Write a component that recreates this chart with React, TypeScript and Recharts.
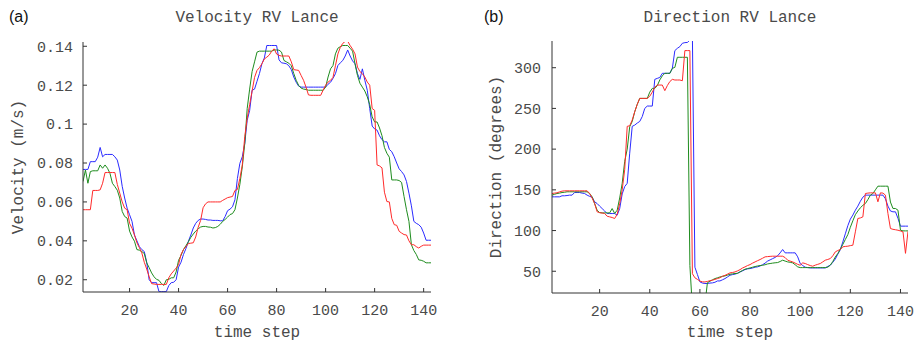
import React from 'react';
import { LineChart, Line, XAxis, YAxis } from 'recharts';

// time steps 1..143
const timeSteps: number[] = Array.from({ length: 143 }, (_, i) => i + 1);

const xTicks = [20, 40, 60, 80, 100, 120, 140];
const velTicks = [0.02, 0.04, 0.06, 0.08, 0.1, 0.12, 0.14];
const dirTicks = [50, 100, 150, 200, 250, 300];

// Velocity RV Lance (m/s)
const velBlue = [
  0.0767, 0.0767, 0.0767, 0.0807, 0.0807, 0.0807, 0.0830, 0.0880, 0.0832, 0.0844,
  0.0844, 0.0844, 0.0844, 0.0832, 0.0815, 0.0764, 0.0680, 0.0620, 0.0568, 0.0534,
  0.0500, 0.0430, 0.0400, 0.0370, 0.0355, 0.0345, 0.0290, 0.0200, 0.0185, 0.0185,
  0.0185, 0.0139, 0.0139, 0.0139, 0.0139, 0.0170, 0.0185, 0.0187, 0.0200, 0.0265,
  0.0290, 0.0330, 0.0360, 0.0398, 0.0430, 0.0466, 0.0490, 0.0505, 0.0512, 0.0512,
  0.0510, 0.0507, 0.0507, 0.0505, 0.0505, 0.0505, 0.0503, 0.0503, 0.0525, 0.0555,
  0.0563, 0.0575, 0.0611, 0.0720, 0.0798, 0.0832, 0.0900, 0.1020, 0.1070, 0.1174,
  0.1180, 0.1220, 0.1260, 0.1310, 0.1340, 0.1404, 0.1404, 0.1404, 0.1404, 0.1404,
  0.1330, 0.1315, 0.1313, 0.1310, 0.1300, 0.1280, 0.1242, 0.1215, 0.1195, 0.1190,
  0.1190, 0.1190, 0.1190, 0.1190, 0.1190, 0.1190, 0.1190, 0.1190, 0.1190, 0.1190,
  0.1205, 0.1215, 0.1235, 0.1259, 0.1301, 0.1315, 0.1327, 0.1350, 0.1381, 0.1350,
  0.1325, 0.1310, 0.1259, 0.1230, 0.1284, 0.1225, 0.1174, 0.1080, 0.0990, 0.0975,
  0.0969, 0.0940, 0.0920, 0.0909, 0.0909, 0.0870, 0.0858, 0.0832, 0.0800, 0.0770,
  0.0756, 0.0739, 0.0705, 0.0645, 0.0580, 0.0500, 0.0490, 0.0483, 0.0470, 0.0440,
  0.0403, 0.0403, 0.0403,
];
const velGreen = [
  0.0705, 0.0764, 0.0696, 0.0756, 0.0760, 0.0760, 0.0760, 0.0790, 0.0773, 0.0790,
  0.0773, 0.0747, 0.0696, 0.0679, 0.0660, 0.0620, 0.0551, 0.0525, 0.0517, 0.0450,
  0.0420, 0.0398, 0.0355, 0.0352, 0.0345, 0.0335, 0.0287, 0.0262, 0.0235, 0.0215,
  0.0202, 0.0197, 0.0180, 0.0171, 0.0200, 0.0202, 0.0210, 0.0210, 0.0240, 0.0300,
  0.0325, 0.0355, 0.0375, 0.0395, 0.0418, 0.0435, 0.0450, 0.0462, 0.0471, 0.0474,
  0.0474, 0.0471, 0.0470, 0.0466, 0.0468, 0.0474, 0.0485, 0.0500, 0.0510, 0.0522,
  0.0535, 0.0540, 0.0560, 0.0620, 0.0690, 0.0780, 0.0900, 0.1080, 0.1180, 0.1270,
  0.1320, 0.1370, 0.1375, 0.1375, 0.1375, 0.1375, 0.1375, 0.1375, 0.1381, 0.1381,
  0.1380, 0.1370, 0.1327, 0.1320, 0.1313, 0.1300, 0.1260, 0.1225, 0.1199, 0.1185,
  0.1180, 0.1178, 0.1174, 0.1174, 0.1174, 0.1174, 0.1174, 0.1174, 0.1174, 0.1190,
  0.1242, 0.1284, 0.1301, 0.1361, 0.1390, 0.1398, 0.1404, 0.1404, 0.1404, 0.1390,
  0.1375, 0.1310, 0.1250, 0.1210, 0.1190, 0.1170, 0.1140, 0.1100, 0.1037, 0.1011,
  0.1011, 0.0980, 0.0940, 0.0880, 0.0850, 0.0830, 0.0713, 0.0713, 0.0713, 0.0710,
  0.0700, 0.0628, 0.0560, 0.0500, 0.0380, 0.0350, 0.0330, 0.0302, 0.0300, 0.0295,
  0.0287, 0.0287, 0.0287,
];
const velRed = [
  0.0560, 0.0560, 0.0560, 0.0560, 0.0659, 0.0659, 0.0659, 0.0662, 0.0696, 0.0751,
  0.0751, 0.0751, 0.0751, 0.0751, 0.0690, 0.0645, 0.0600, 0.0568, 0.0560, 0.0490,
  0.0465, 0.0430, 0.0390, 0.0365, 0.0338, 0.0290, 0.0255, 0.0215, 0.0180, 0.0178,
  0.0176, 0.0176, 0.0176, 0.0176, 0.0176, 0.0210, 0.0230, 0.0245, 0.0260, 0.0278,
  0.0330, 0.0355, 0.0370, 0.0386, 0.0388, 0.0390, 0.0420, 0.0470, 0.0505, 0.0570,
  0.0590, 0.0600, 0.0600, 0.0600, 0.0600, 0.0600, 0.0600, 0.0608, 0.0615, 0.0622,
  0.0625, 0.0628, 0.0659, 0.0664, 0.0720, 0.0790, 0.0935, 0.1030, 0.1100, 0.1170,
  0.1240, 0.1276, 0.1290, 0.1310, 0.1335, 0.1344, 0.1355, 0.1375, 0.1387, 0.1360,
  0.1353, 0.1350, 0.1350, 0.1350, 0.1350, 0.1320, 0.1280, 0.1278, 0.1276, 0.1250,
  0.1225, 0.1190, 0.1150, 0.1148, 0.1148, 0.1148, 0.1148, 0.1148, 0.1175, 0.1200,
  0.1216, 0.1225, 0.1240, 0.1300, 0.1360, 0.1395, 0.1415, 0.1425, 0.1426, 0.1404,
  0.1385, 0.1361, 0.1293, 0.1270, 0.1259, 0.1242, 0.1216, 0.1200, 0.1080, 0.1071,
  0.0790, 0.0785, 0.0775, 0.0650, 0.0602, 0.0600, 0.0515, 0.0483, 0.0480, 0.0449,
  0.0440, 0.0432, 0.0430, 0.0400, 0.0380, 0.0380, 0.0370, 0.0363, 0.0372, 0.0378,
  0.0378, 0.0378, 0.0378,
];

// Direction RV Lance (degrees)
const dirBlue = [
  141.4, 141.4, 141.4, 141.4, 142.7, 142.7, 143.0, 143.5, 143.5, 146.7,
  146.7, 146.7, 146.0, 145.5, 143.5, 142.0, 141.0, 135.3, 133.2, 130.0,
  127.0, 124.0, 120.9, 120.9, 120.9, 120.9, 118.9, 127.0, 145.0, 154.0,
  158.0, 195.0, 228.0, 229.5, 232.0, 234.0, 240.0, 250.0, 252.9, 252.9,
  252.9, 285.7, 286.9, 288.0, 293.1, 293.1, 293.1, 293.1, 299.2, 321.0,
  323.8, 325.9, 330.0, 330.8, 331.0, 334.0, 340.0, 55.0, 46.0, 37.0,
  35.5, 35.0, 35.0, 35.5, 35.7, 36.5, 38.1, 38.1, 39.5, 41.0,
  43.0, 45.1, 45.9, 46.5, 47.5, 49.2, 50.5, 52.1, 53.0, 53.3,
  54.0, 55.0, 55.4, 56.5, 58.0, 60.0, 62.5, 64.0, 65.5, 67.0,
  69.0, 72.6, 76.7, 72.6, 72.6, 72.6, 72.6, 72.6, 67.7, 59.5,
  57.0, 55.0, 54.5, 54.1, 54.1, 54.1, 54.1, 54.1, 54.1, 54.1,
  56.0, 57.4, 61.0, 65.0, 71.0, 76.5, 86.0, 96.0, 106.0, 114.0,
  119.0, 125.0, 130.0, 136.0, 141.0, 143.5, 143.5, 143.5, 143.5, 143.5,
  143.5, 143.5, 143.5, 139.0, 130.0, 124.0, 123.0, 123.0, 115.0, 105.4,
  105.4, 105.4, 105.4,
];
const dirGreen = [
  143.5, 144.5, 145.5, 146.0, 146.7, 147.0, 147.6, 147.6, 147.6, 147.6,
  147.6, 147.6, 147.6, 147.6, 147.6, 145.5, 141.4, 133.2, 125.0, 122.0,
  121.7, 121.7, 121.7, 121.7, 127.0, 121.0, 125.0, 140.0, 158.0, 185.0,
  200.0, 227.5, 234.0, 245.9, 255.0, 262.3, 262.3, 262.3, 262.3, 270.0,
  274.6, 274.6, 278.0, 285.0, 290.0, 293.1, 293.1, 293.1, 299.2, 300.4,
  312.8, 312.8, 312.8, 312.8, 312.8, 57.0, 5.0, 5.0, 5.0, 5.0,
  5.0, 10.0, 36.0, 37.7, 39.5, 41.0, 42.0, 43.0, 43.7, 44.3,
  45.3, 46.3, 46.8, 47.2, 47.5, 49.2, 51.0, 52.5, 53.3, 54.1,
  55.0, 55.8, 56.5, 57.0, 57.4, 58.0, 59.0, 59.5, 60.0, 60.4,
  60.7, 62.0, 63.6, 62.5, 61.5, 61.0, 60.3, 58.0, 55.4, 54.5,
  54.5, 54.5, 54.5, 54.5, 54.5, 54.5, 54.5, 54.5, 54.5, 54.5,
  55.0, 57.5, 62.0, 67.5, 71.8, 77.0, 83.0, 89.0, 95.0, 104.0,
  112.0, 119.5, 124.0, 128.0, 131.0, 133.2, 138.0, 143.5, 145.5, 150.0,
  154.5, 154.5, 154.5, 154.5, 154.5, 135.0, 127.1, 127.1, 125.0, 100.4,
  99.6, 99.6, 99.6,
];
const dirRed = [
  145.5, 146.0, 146.3, 147.5, 148.4, 148.8, 148.8, 148.8, 148.8, 148.8,
  148.8, 148.8, 148.8, 148.8, 148.8, 145.5, 140.0, 133.2, 123.0, 122.0,
  121.5, 120.9, 117.6, 116.8, 116.0, 114.8, 120.0, 133.2, 150.0, 175.0,
  228.0, 228.7, 235.7, 245.9, 255.0, 262.3, 262.3, 262.3, 262.3, 265.0,
  270.0, 276.0, 278.7, 278.7, 278.7, 271.8, 278.0, 283.0, 285.7, 284.9,
  284.9, 284.9, 284.0, 321.0, 321.0, 321.0, 47.0, 42.0, 40.0, 38.0,
  37.0, 36.9, 37.5, 38.5, 39.0, 40.0, 41.0, 42.0, 43.9, 45.0,
  46.5, 48.0, 48.5, 49.2, 50.5, 52.0, 54.0, 55.4, 57.0, 58.2,
  60.0, 61.5, 63.0, 64.4, 66.0, 67.7, 68.0, 68.3, 68.5, 68.5,
  68.5, 68.5, 68.5, 66.8, 63.6, 62.5, 61.5, 60.0, 58.5, 57.4,
  60.3, 59.5, 58.2, 57.0, 56.2, 57.5, 58.5, 59.5, 61.5, 63.6,
  64.5, 65.6, 69.0, 73.8, 75.5, 76.7, 80.0, 80.5, 80.8, 81.5,
  82.0, 98.4, 114.8, 115.5, 116.8, 145.5, 146.0, 146.3, 146.3, 146.3,
  135.3, 146.3, 146.0, 143.5, 120.9, 102.5, 101.5, 101.0, 100.4, 99.5,
  98.4, 72.0, 99.0,
];

const velData = timeSteps.map((t, i) => ({ t, blue: velBlue[i], green: velGreen[i], red: velRed[i] }));
const dirData = timeSteps.map((t, i) => ({ t, blue: dirBlue[i], green: dirGreen[i], red: dirRed[i] }));

const MONO = '"Liberation Mono", "DejaVu Sans Mono", monospace';
const SANS = '"Liberation Sans", Arial, sans-serif';
const AXIS = '#333333';
const TXT = '#4a4a4a';
const BLUE = '#2b2bff';
const GREEN = '#1e8c1e';
const RED = '#ff2b2b';

const tickStyle = { fill: TXT, fontSize: 15, fontFamily: MONO };

type PanelProps = {
  data: any[];
  yDomain: [number, number];
  yTicks: number[];
  width: number;
  yWidth: number;
  margin: { top: number; right: number; bottom: number; left: number };
  yTickMargin: number;
};

function Panel({ data, yDomain, yTicks, width, yWidth, margin, yTickMargin }: PanelProps) {
  return (
    <LineChart width={width} height={343} data={data} margin={margin}>
      <XAxis
        xAxisId="b"
        dataKey="t"
        type="number"
        domain={[1, 143]}
        ticks={xTicks}
        interval={0}
        allowDataOverflow
        orientation="bottom"
        height={30}
        tickSize={-4}
        tickMargin={16}
        stroke={AXIS}
        tick={tickStyle}
      />
      <XAxis
        xAxisId="t"
        dataKey="t"
        type="number"
        domain={[1, 143]}
        ticks={xTicks}
        interval={0}
        allowDataOverflow
        orientation="top"
        height={0}
        tickSize={-4}
        tick={false}
        stroke={AXIS}
      />
      <YAxis
        yAxisId="l"
        type="number"
        domain={yDomain}
        ticks={yTicks}
        interval={0}
        allowDataOverflow
        orientation="left"
        width={yWidth}
        tickSize={-4}
        tickMargin={yTickMargin}
        stroke={AXIS}
        tick={tickStyle}
      />
      <YAxis
        yAxisId="r"
        type="number"
        domain={yDomain}
        ticks={yTicks}
        interval={0}
        allowDataOverflow
        orientation="right"
        width={0}
        tickSize={-4}
        tick={false}
        stroke={AXIS}
      />
      <Line xAxisId="b" yAxisId="l" type="linear" dataKey="blue" stroke={BLUE} strokeWidth={1} dot={false} isAnimationActive={false} />
      <Line xAxisId="b" yAxisId="l" type="linear" dataKey="green" stroke={GREEN} strokeWidth={1} dot={false} isAnimationActive={false} />
      <Line xAxisId="b" yAxisId="l" type="linear" dataKey="red" stroke={RED} strokeWidth={1} dot={false} isAnimationActive={false} />
    </LineChart>
  );
}

export default function App() {
  return (
    <div style={{ position: 'absolute', left: 0, top: 0, width: 915, height: 343, background: '#fff', overflow: 'hidden' }}>
      <div style={{ position: 'absolute', left: 0, top: 0 }}>
        <Panel
          data={velData}
          yDomain={[0.0137, 0.1422]}
          yTicks={velTicks}
          width={460}
          yWidth={83}
          margin={{ top: 42, right: 29, bottom: 21, left: 0 }}
          yTickMargin={14}
        />
      </div>
      <div style={{ position: 'absolute', left: 460, top: 0 }}>
        <Panel
          data={dirData}
          yDomain={[23.3, 332.8]}
          yTicks={dirTicks}
          width={455}
          yWidth={92}
          margin={{ top: 41, right: 7, bottom: 20, left: 0 }}
          yTickMargin={15}
        />
      </div>
      <svg width={915} height={343} style={{ position: 'absolute', left: 0, top: 0, pointerEvents: 'none' }}>
        <text x={9} y={22} fontFamily={SANS} fontSize={16} fill="#111">(a)</text>
        <text x={257} y={22} textAnchor="middle" fontFamily={MONO} fontSize={16} fill={TXT}>Velocity RV Lance</text>
        <text x={257} y={337} textAnchor="middle" fontFamily={MONO} fontSize={16} fill={TXT}>time step</text>
        <text x={19} y={167} transform="rotate(-90 19 167)" textAnchor="middle" dominantBaseline="central" fontFamily={MONO} fontSize={16} fill={TXT}>Velocity (m/s)</text>
        <text x={484} y={22} fontFamily={SANS} fontSize={16} fill="#111">(b)</text>
        <text x={730} y={22} textAnchor="middle" fontFamily={MONO} fontSize={16} fill={TXT}>Direction RV Lance</text>
        <text x={730} y={337} textAnchor="middle" fontFamily={MONO} fontSize={16} fill={TXT}>time step</text>
        <text x={497} y={167} transform="rotate(-90 497 167)" textAnchor="middle" dominantBaseline="central" fontFamily={MONO} fontSize={16} fill={TXT}>Direction (degrees)</text>
      </svg>
    </div>
  );
}
